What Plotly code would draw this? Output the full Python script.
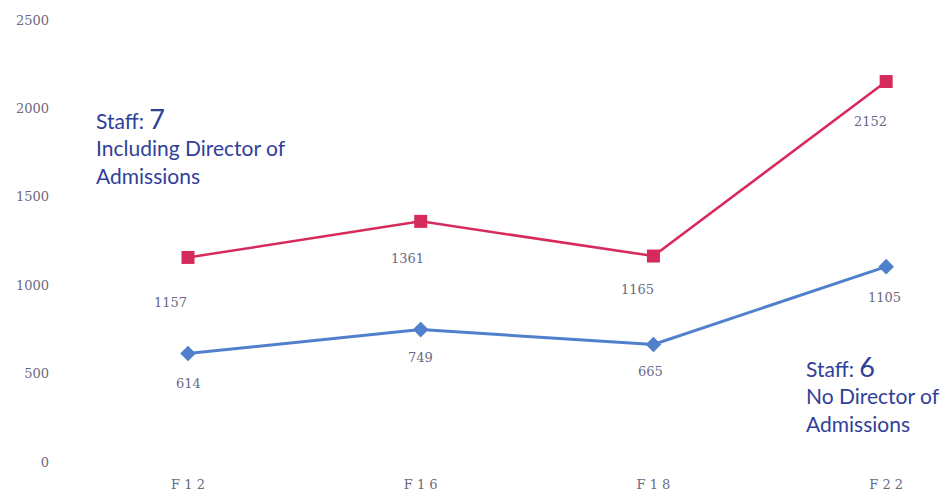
import plotly.graph_objects as go

categories = ["F12", "F16", "F18", "F22"]
tick_labels = ["F 1 2", "F 1 6", "F 1 8", "F 2 2"]
with_director = [1157, 1361, 1165, 2152]
no_director = [614, 749, 665, 1105]
y_ticks = [0, 500, 1000, 1500, 2000, 2500]

xpos = list(range(len(categories)))

red = "#d62a5c"
blue = "#5080cc"
label_color = "#6a6a82"
note_color = "#30409a"

fig = go.Figure()
fig.add_trace(go.Scatter(
    x=xpos, y=no_director, mode="lines+markers",
    line=dict(color=blue, width=3),
    marker=dict(symbol="diamond", size=12, color=blue),
    hoverinfo="skip", showlegend=False))
fig.add_trace(go.Scatter(
    x=xpos, y=with_director, mode="lines+markers",
    line=dict(color=red, width=2.5),
    marker=dict(symbol="square", size=13, color=red),
    hoverinfo="skip", showlegend=False))

red_shifts = [(-18, -45), (-13, -37), (-16, -33), (-16, -40)]
blue_shifts = [(0, -30), (0, -28), (-3, -27), (-2, -31)]
serif = "DejaVu Serif"
for i, v in enumerate(with_director):
    fig.add_annotation(x=xpos[i], y=v, text=str(v), showarrow=False,
                       xshift=red_shifts[i][0], yshift=red_shifts[i][1],
                       font=dict(family=serif, size=13, color=label_color))
for i, v in enumerate(no_director):
    fig.add_annotation(x=xpos[i], y=v, text=str(v), showarrow=False,
                       xshift=blue_shifts[i][0], yshift=blue_shifts[i][1],
                       font=dict(family=serif, size=13, color=label_color))

# page coords: plot area spans x 60..949 and y 20..462 (figure offset by 8px body margin)
note_font = dict(family="Lato", size=21, color=note_color)
fig.add_annotation(xref="paper", yref="paper", x=(94 - 60) / 889, y=(462 - 100) / 442,
                   xanchor="left", yanchor="top", align="left", showarrow=False,
                   text="Staff: <span style='font-size:27px'>7</span><br>Including Director of<br>Admissions",
                   font=note_font)
fig.add_annotation(xref="paper", yref="paper", x=(804 - 60) / 889, y=(462 - 348) / 442,
                   xanchor="left", yanchor="top", align="left", showarrow=False,
                   text="Staff: <span style='font-size:27px'>6</span><br>No Director of<br>Admissions",
                   font=note_font)

fig.update_layout(
    width=949, height=491,
    margin=dict(l=52, r=8, t=12, b=37, autoexpand=False),
    plot_bgcolor="white", paper_bgcolor="white",
    xaxis=dict(range=[-0.55, 3.27], tickvals=xpos, ticktext=tick_labels,
               showgrid=False, zeroline=False, showline=False, ticklabelstandoff=13,
               tickfont=dict(family=serif, size=13, color=label_color)),
    yaxis=dict(range=[0, 2500], tickvals=y_ticks, showgrid=False, zeroline=False,
               showline=False, ticklabelstandoff=10,
               tickfont=dict(family=serif, size=13, color=label_color)),
)

fig.write_html("out.html")
